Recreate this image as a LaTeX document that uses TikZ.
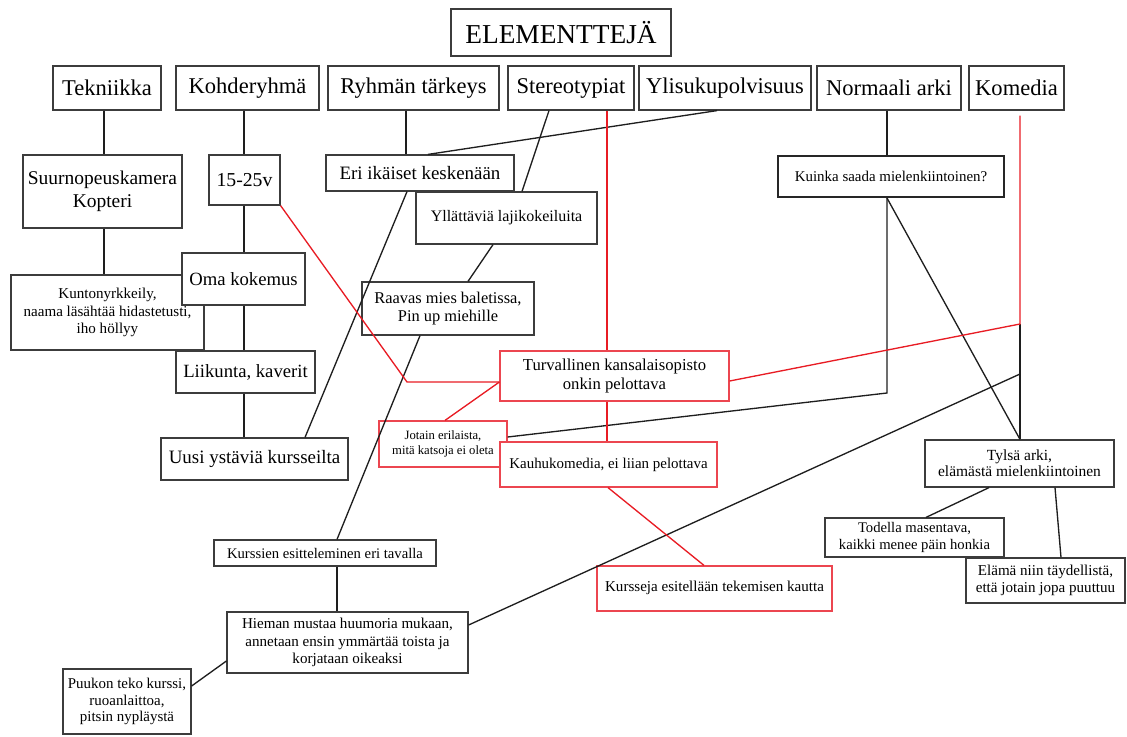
\documentclass[tikz,border=0pt]{standalone}
\usepackage{fontspec}
\setmainfont{Liberation Serif}
\usetikzlibrary{calc}
\definecolor{rline}{RGB}{232,28,36}
\definecolor{rboxc}{RGB}{236,70,80}
\definecolor{bline}{RGB}{30,30,30}
\definecolor{bboxc}{RGB}{60,60,60}
\newcommand\fs[2]{\fontsize{#1}{#2}\selectfont}
\newcommand\bx[7]{\node[#6, minimum width={(#4-#2)*0.75pt}, minimum height={(#5-#3)*0.75pt}] (#1) at ({(#2+#4)/2},{(#3+#5)/2}) {#7};}
\begin{document}
\begin{tikzpicture}[x=0.75pt,y=-0.75pt,
 box/.style={draw=bboxc, line width=0.9pt, fill=white, inner sep=0pt, align=center, text=black},
 redbox/.style={box, draw=rboxc},
 boldbox/.style={box, line width=1.6pt, draw=black!85},
 conn/.style={draw=bline, line width=1pt},
 rconn/.style={draw=rline, line width=1pt}]
\useasboundingbox (0,0) rectangle (1127,736);
% title and top row
\bx{title}{451}{9}{671}{56}{box,font=\fs{20.5}{24}}{ELEMENTTEJÄ}
\bx{tek}{53}{66}{161}{110}{box,font=\fs{16.9}{20}}{Tekniikka}
\bx{koh}{176}{66}{319}{110}{box,font=\fs{16.9}{20}}{Kohderyhmä}
\bx{ryh}{328}{66}{499}{110}{box,font=\fs{16.9}{20}}{Ryhmän tärkeys}
\bx{ste}{508}{66}{634}{110}{box,font=\fs{16.9}{20}}{Stereotypiat}
\bx{yli}{639}{66}{811}{110}{box,font=\fs{16.9}{20}}{Ylisukupolvisuus}
\bx{nor}{817}{66}{961}{110}{box,font=\fs{16.9}{20}}{Normaali arki}
\bx{kom}{969}{66}{1064}{110}{box,font=\fs{16.9}{20}}{Komedia}
% second row
\bx{suu}{23}{155}{182}{228}{box,font=\fs{14.6}{17.5}}{Suurnopeuskamera\\Kopteri}
\bx{v15}{209}{155}{280}{205}{box,font=\fs{14.8}{17.5}}{15-25v}
\bx{eri}{326}{155}{514}{191}{box,font=\fs{14.2}{17}}{Eri ikäiset keskenään}
\bx{yll}{416}{192}{597}{244}{box,font=\fs{12}{14}}{Yllättäviä lajikokeiluita}
\bx{kui}{778}{156}{1004}{197}{boldbox,font=\fs{11.2}{13}}{Kuinka saada mielenkiintoinen?}
% left column
\bx{kun}{11}{275}{204}{350}{box,font=\fs{11.3}{13}}{Kuntonyrkkeily,\\naama läsähtää hidastetusti,\\iho höllyy}
\bx{oma}{182}{253}{305}{305}{box,font=\fs{14}{17}}{Oma kokemus}
\bx{lii}{176}{351}{315}{393}{box,font=\fs{14}{17}}{Liikunta, kaverit}
\bx{uus}{161}{438}{348}{480}{box,font=\fs{14.2}{17}}{Uusi ystäviä kursseilta}
\bx{raa}{362}{282}{534}{335}{box,font=\fs{12.3}{13.75}}{Raavas mies baletissa,\\Pin up miehille}
% red cluster
\bx{tur}{500}{351}{729}{401}{redbox,font=\fs{12.5}{14.25}}{Turvallinen kansalaisopisto\\onkin pelottava}
\bx{jot}{379}{421}{507}{467}{redbox,font=\fs{9.5}{11.25}}{Jotain erilaista,\\mitä katsoja ei oleta}
\bx{kau}{500}{442}{717}{487}{redbox,font=\fs{11.2}{13}}{Kauhukomedia, ei liian pelottava}
\bx{kse}{597}{566}{832}{611}{redbox,font=\fs{11.3}{13}}{\raisebox{3pt}{Kursseja esitellään tekemisen kautta}}
% right cluster
\bx{tyl}{925}{440}{1114}{487}{box,font=\fs{11.6}{12}}{Tylsä arki,\\elämästä mielenkiintoinen}
\bx{tod}{825}{518}{1004}{557}{box,font=\fs{11}{12.5}}{Todella masentava,\\kaikki menee päin honkia}
\bx{ela}{966}{558}{1125}{603}{box,font=\fs{11.3}{12.5}}{Elämä niin täydellistä,\\että jotain jopa puuttuu}
% bottom
\bx{kus}{214}{540}{436}{566}{box,font=\fs{11}{13}}{Kurssien esitteleminen eri tavalla}
\bx{hie}{227}{612}{468}{673}{box,font=\fs{11.3}{13}}{Hieman mustaa huumoria mukaan,\\annetaan ensin ymmärtää toista ja\\korjataan oikeaksi}
\bx{puu}{63}{669}{191}{734}{box,font=\fs{11.2}{12.5}}{Puukon teko kurssi,\\ruoanlaittoa,\\pitsin nypläystä}
% helper coordinates
\coordinate (c1) at (1020,324);
\coordinate (c2) at (1020,374);
\coordinate (c3) at (887,393);
\coordinate (c4) at (407,382);
% black connectors
\draw[conn] (tek.south -| 104,0) -- (suu.north -| 104,0);
\draw[conn] (suu.south -| 104,0) -- (kun.north -| 104,0);
\draw[conn] (koh.south -| 244,0) -- (v15.north -| 244,0);
\draw[conn] (v15.south -| 244,0) -- (oma.north -| 244,0);
\draw[conn] (oma.south -| 244,0) -- (lii.north -| 244,0);
\draw[conn] (lii.south -| 244,0) -- (uus.north -| 244,0);
\draw[conn] (ryh.south -| 406,0) -- (eri.north -| 406,0);
\draw[conn] (yli.south -| 717,0) -- (eri.north -| 428,0);
\draw[conn] (ste.south -| 549,0) -- (yll.north -| 522,0);
\draw[conn] (eri.south -| 407,0) -- (uus.north -| 305,0);
\draw[conn] (yll.south -| 493,0) -- (raa.north -| 468,0);
\draw[conn] (raa.south -| 420,0) -- (kus.north -| 337,0);
\draw[conn] (kus.south -| 337,0) -- (hie.north -| 337,0);
\draw[conn] (hie.west |- 0,661) -- (puu.east |- 0,686);
\draw[conn] (hie.east |- 0,625) -- (c2);
\draw[conn] (nor.south -| 887,0) -- (kui.north -| 887,0);
\draw[conn] (kui.south -| 887,0) -- (c3) -- (jot.east |- 0,437);
\draw[conn] (kui.south -| 887,0) -- (tyl.north -| 1020,0);
\draw[conn] (c1) -- (tyl.north -| 1020,0);
\draw[conn] (tyl.south -| 989,0) -- (tod.north -| 926,0);
\draw[conn] (tyl.south -| 1055,0) -- (ela.north -| 1061,0);
% red connectors
\draw[rconn] (ste.south -| 607,0) -- (tur.north -| 607,0);
\draw[rconn] (v15.south east) -- (c4) -- (tur.west |- 0,382);
\draw[rconn] (tur.west |- 0,382) -- (jot.north -| 445,0);
\draw[rconn] (tur.south -| 607,0) -- (kau.north -| 607,0);
\draw[rconn] (kau.south -| 608,0) -- (kse.north -| 704,0);
\draw[rconn] ($(kom.south -| 1020,0)+(0,5)$) -- (c1) -- (tur.east |- 0,381);
\end{tikzpicture}
\end{document}
